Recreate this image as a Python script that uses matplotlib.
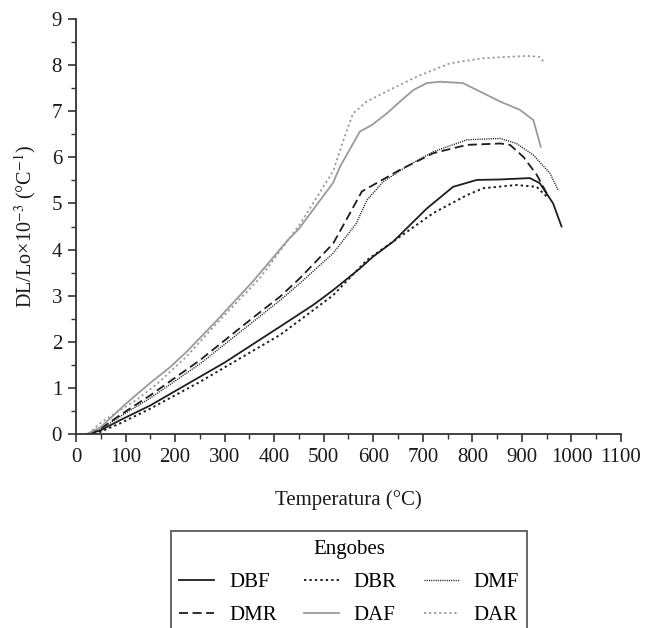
import matplotlib
matplotlib.use("Agg")
import matplotlib.pyplot as plt
from matplotlib.ticker import MultipleLocator

plt.rcParams['font.family'] = ['Liberation Serif', 'DejaVu Serif']
plt.rcParams['mathtext.fontset'] = 'stix'

# ---- data (temperature °C, DL/Lo x10^-3) ----
dbf_t = [25, 50, 89, 150, 250, 300, 412, 479, 519, 573, 600, 640, 708, 761, 809, 856, 916, 936, 963, 980]
dbf_v = [0, 0.08, 0.30, 0.62, 1.24, 1.55, 2.33, 2.80, 3.12, 3.59, 3.85, 4.17, 4.89, 5.36, 5.51, 5.52, 5.55, 5.44, 5.00, 4.50]

dbr_t = [25, 50, 89, 150, 250, 412, 452, 519, 587, 654, 721, 789, 822, 889, 930, 943, 950]
dbr_v = [0, 0.05, 0.23, 0.55, 1.13, 2.15, 2.47, 3.01, 3.77, 4.28, 4.79, 5.18, 5.33, 5.40, 5.36, 5.22, 5.15]

dmf_t = [25, 50, 89, 150, 250, 351, 412, 452, 519, 566, 587, 620, 667, 721, 789, 856, 889, 923, 957, 973]
dmf_v = [0, 0.10, 0.38, 0.78, 1.52, 2.38, 2.90, 3.27, 3.92, 4.57, 5.07, 5.47, 5.80, 6.12, 6.38, 6.41, 6.30, 6.05, 5.65, 5.29]

dmr_t = [25, 50, 89, 150, 250, 351, 412, 452, 519, 553, 577, 600, 654, 721, 789, 856, 876, 903, 930, 950]
dmr_v = [0, 0.12, 0.41, 0.84, 1.60, 2.47, 2.98, 3.38, 4.13, 4.79, 5.26, 5.40, 5.73, 6.09, 6.27, 6.30, 6.27, 6.01, 5.62, 5.22]

daf_t = [22, 50, 75, 100, 149, 190, 223, 284, 358, 428, 450, 519, 533, 573, 597, 627, 654, 681, 708, 735, 781, 856, 896, 923, 938]
daf_v = [0, 0.15, 0.40, 0.65, 1.10, 1.45, 1.78, 2.46, 3.32, 4.21, 4.45, 5.45, 5.80, 6.56, 6.70, 6.95, 7.21, 7.46, 7.61, 7.64, 7.61, 7.21, 7.03, 6.81, 6.23]

dar_t = [25, 48, 75, 122, 163, 223, 284, 371, 452, 519, 539, 559, 587, 640, 688, 755, 822, 910, 935, 946]
dar_v = [0, 0.23, 0.42, 0.74, 1.08, 1.68, 2.40, 3.38, 4.55, 5.70, 6.35, 6.95, 7.21, 7.50, 7.75, 8.04, 8.15, 8.20, 8.18, 8.05]

labels = ["DBF", "DBR", "DMF", "DMR", "DAF", "DAR"]

BLACK = "#1e1e1e"
GRAY = "#9a9a9a"
FS = 15

fig = plt.figure(figsize=(6.45, 6.28), dpi=100)
ax = fig.add_axes([76/645, 1 - 434/628, 545/645, (434 - 19)/628])

h_dbf, = ax.plot(dbf_t, dbf_v, color=BLACK, lw=1.3, ls='-')
h_dbr, = ax.plot(dbr_t, dbr_v, color=BLACK, lw=1.4, ls=(0, (1.2, 1.6)))
h_dmf, = ax.plot(dmf_t, dmf_v, color=BLACK, lw=1.0, ls=(0, (0.8, 0.8)))
h_dmr, = ax.plot(dmr_t, dmr_v, color=BLACK, lw=1.3, ls=(0, (5, 2.5)))
h_daf, = ax.plot(daf_t, daf_v, color=GRAY, lw=1.3, ls='-')
h_dar, = ax.plot(dar_t, dar_v, color=GRAY, lw=1.3, ls=(0, (1.2, 1.6)))

ax.set_xlim(0, 1100)
ax.set_ylim(0, 9)
ax.xaxis.set_major_locator(MultipleLocator(100))
ax.xaxis.set_minor_locator(MultipleLocator(50))
ax.yaxis.set_major_locator(MultipleLocator(1))
ax.yaxis.set_minor_locator(MultipleLocator(0.5))

for s in ['top', 'right']:
    ax.spines[s].set_visible(False)
for s in ['left', 'bottom']:
    ax.spines[s].set_color('#333333')
    ax.spines[s].set_linewidth(1.3)

ax.tick_params(which='major', direction='out', length=6, width=1.2, color='#333333',
               labelsize=FS, labelcolor='#1a1a1a', pad=4)
ax.tick_params(which='minor', direction='out', length=3.5, width=1.0, color='#333333')

ax.set_xlabel("Temperatura (°C)", fontsize=FS, color='#1a1a1a', labelpad=17)
ax.set_ylabel(r"DL/Lo×10$^{-3}$ (°C$^{-1}$)", fontsize=14.5, color='#1a1a1a', labelpad=10)

handles = [h_dbf, h_dbr, h_dmf, h_dmr, h_daf, h_dar]
# rows read DBF DBR DMF / DMR DAF DAR with ncol=3 (column-major filling)
order = [0, 3, 1, 4, 2, 5]
leg = fig.legend([handles[i] for i in order], [labels[i] for i in order],
                 ncol=3, title="Engobes", loc='upper center',
                 bbox_to_anchor=(349/645, 1 - 521/628),
                 fontsize=FS, title_fontsize=FS, frameon=True, fancybox=False,
                 edgecolor='#333333', handlelength=1.7, handletextpad=0.7,
                 columnspacing=1.3, labelspacing=0.65, borderpad=0.4)
leg.get_frame().set_linewidth(1.3)

fig.savefig("out.png", dpi=100)
